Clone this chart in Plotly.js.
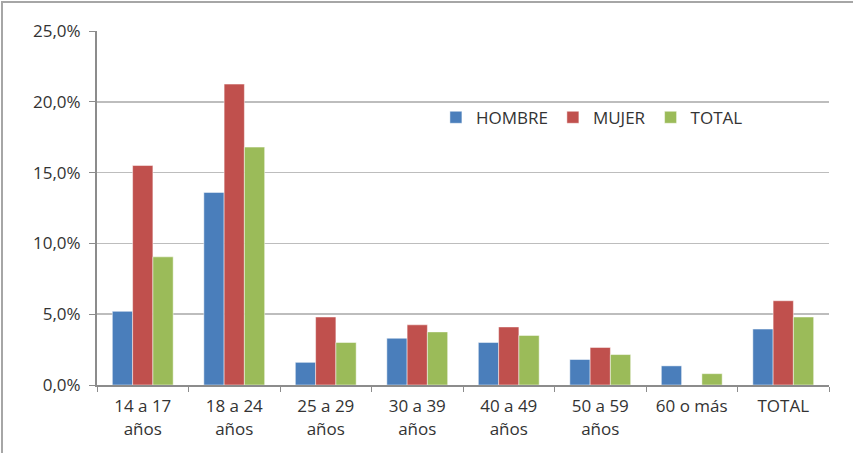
<!DOCTYPE html>
<html>
<head>
<meta charset="utf-8">
<script src="https://cdn.plot.ly/plotly-3.0.1.min.js"></script>
<style>
html,body{margin:0;padding:0;background:#fff;}
#wrap{position:relative;width:853px;height:453px;}
#chart{width:853px;height:453px;}
#frame{position:absolute;left:1px;top:1px;width:852px;height:452px;border-left:2px solid #a6a6a6;border-top:2px solid #a6a6a6;pointer-events:none;box-sizing:border-box;}
</style>
</head>
<body>
<div id="wrap"><div id="chart"></div><div id="frame"></div></div>
<script>
const categories = ["14 a 17<br>años","18 a 24<br>años","25 a 29<br>años","30 a 39<br>años","40 a 49<br>años","50 a 59<br>años","60 o más","TOTAL"];
const hombre = [5.2, 13.6, 1.6, 3.3, 3.0, 1.8, 1.35, 3.95];
const mujer  = [15.5, 21.25, 4.8, 4.25, 4.1, 2.65, 0, 5.95];
const total  = [9.05, 16.8, 3.0, 3.75, 3.5, 2.15, 0.8, 4.8];
const seriesNames = ["HOMBRE","MUJER","TOTAL"];
const colors = ["#4a7ebb","#c0504d","#9bbb59"];

const data = [hombre, mujer, total].map((vals,i)=>({
  type:"bar", x:categories, y:vals, name:seriesNames[i],
  marker:{color:colors[i], line:{color:"rgba(255,255,255,0.6)", width:0.8}},
  hoverinfo:"x+y"
}));

const layout = {
  width:853, height:453,
  margin:{l:97, r:24, t:31, b:68},
  paper_bgcolor:"#fff", plot_bgcolor:"#fff",
  font:{family:"Open Sans, Liberation Sans, sans-serif", size:17, color:"#333"},
  separators:", ",
  barmode:"group", bargap:0.335, bargroupgap:0,
  showlegend:true,
  legend:{orientation:"h", x:0.463, xanchor:"left", y:0.755, yanchor:"middle",
    font:{size:17, color:"#333"}, bgcolor:"rgba(0,0,0,0)", itemwidth:30, traceorder:"normal"},
  xaxis:{type:"category", showline:true, linecolor:"#8c8c8c", linewidth:2,
    ticks:"outside", tickson:"boundaries", ticklen:5, tickcolor:"#8c8c8c", tickwidth:1,
    showgrid:false, tickfont:{size:17, color:"#333"}, ticklabelstandoff:5, automargin:false},
  yaxis:{range:[0,25], dtick:5, tickformat:".1f", ticksuffix:"%", showline:true,
    linecolor:"#8c8c8c", linewidth:2, ticks:"outside", ticklen:6, tickcolor:"#8c8c8c",
    gridcolor:"#bdbdbd", gridwidth:1.5, zeroline:false, tickfont:{size:17, color:"#333"},
    ticklabelstandoff:5, automargin:false}
};
Plotly.newPlot("chart", data, layout, {displayModeBar:false, staticPlot:true});
</script>
</body>
</html>
